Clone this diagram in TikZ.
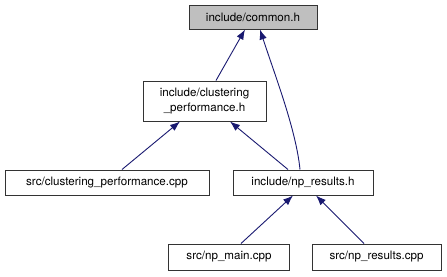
\documentclass[tikz,border=0pt]{standalone}
\usepackage{fontspec}
\setmainfont{TeX Gyre Heros}
\usetikzlibrary{arrows.meta}

\definecolor{edgeblue}{HTML}{191970}
\definecolor{rootgray}{HTML}{BFBFBF}

\begin{document}
\begin{tikzpicture}[
  x=1pt,y=-1pt,
  >={Latex[length=10pt,width=7.5pt]},
  file/.style={
    draw=black!80,
    line width=1pt,
    fill=white,
    align=center,
    inner sep=0pt,
    font=\fontsize{11.6}{14.5}\selectfont
  },
  dep/.style={->,edgeblue,line width=0.9pt}
]
  \useasboundingbox (0,0) rectangle (447,276);

  \node[file,fill=rootgray,minimum width=128pt,minimum height=24pt]
    (common) at (253,17) {include/common.h};
  \node[file,minimum width=123pt,minimum height=40pt]
    (clperfh) at (204.5,101) {include/clustering\\\_performance.h};
  \node[file,minimum width=204pt,minimum height=25pt]
    (clperfcpp) at (107,182.5) {src/clustering\_performance.cpp};
  \node[file,minimum width=140pt,minimum height=25pt]
    (npresh) at (303,182.5) {include/np\_results.h};
  \node[file,minimum width=121pt,minimum height=26pt]
    (npmain) at (229,257) {src/np\_main.cpp};
  \node[file,minimum width=129pt,minimum height=26pt]
    (nprescpp) at (376.5,257) {src/np\_results.cpp};

  % include edges, arrow on the included file
  \draw[dep] ([xshift=11.5pt]clperfh.north) -- ([xshift=-8pt]common.south);
  \draw[dep] ([xshift=-3pt]npresh.north)
    .. controls +(-4pt,40pt) and +(15pt,-46pt) .. ([xshift=7pt]common.south);
  \draw[dep] ([xshift=15pt]clperfcpp.north) -- ([xshift=-24.5pt]clperfh.south);
  \draw[dep] ([xshift=-15pt]npresh.north) -- ([xshift=25.5pt]clperfh.south);
  \draw[dep] ([xshift=12pt]npmain.north) -- ([xshift=-10pt]npresh.south);
  \draw[dep] ([xshift=-12.5pt]nprescpp.north) -- ([xshift=13pt]npresh.south);
\end{tikzpicture}
\end{document}
